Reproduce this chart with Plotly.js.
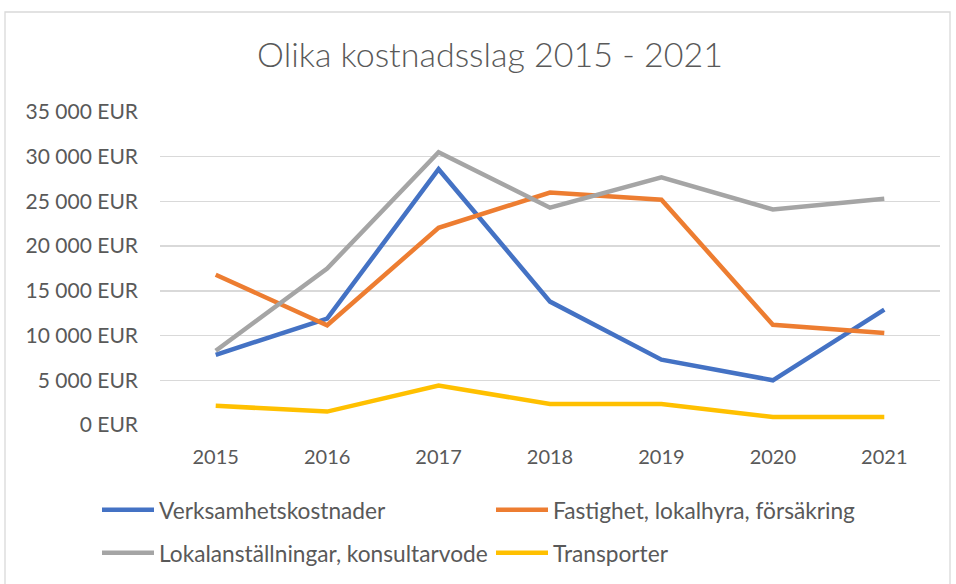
<!DOCTYPE html>
<html>
<head>
<meta charset="utf-8">
<script src="https://cdn.plot.ly/plotly-3.0.1.min.js"></script>
<style>html,body{margin:0;padding:0;background:#fff;}#chart{width:956px;height:584px;}</style>
</head>
<body>
<div id="chart"></div>
<script>
const years = ["2015", "2016", "2017", "2018", "2019", "2020", "2021"];
const verksamhetskostnader = [7850, 11900, 28600, 13800, 7300, 5000, 12900];
const fastighet = [16800, 11150, 22050, 26000, 25200, 11200, 10300];
const lokalanstallningar = [8300, 17500, 30500, 24300, 27700, 24100, 25300];
const transporter = [2150, 1500, 4400, 2350, 2350, 900, 900];
const seriesNames = ["Verksamhetskostnader", "Fastighet, lokalhyra, försäkring", "Lokalanställningar, konsultarvode", "Transporter"];
const yTicks = [0, 5000, 10000, 15000, 20000, 25000, 30000, 35000];
const yTickText = ["0 EUR", "5 000 EUR", "10 000 EUR", "15 000 EUR", "20 000 EUR", "25 000 EUR", "30 000 EUR", "35 000 EUR"];

const W = 956, H = 584;
const ml = 160, mr = 16, mt = 112, mb = 159;
const pw = W - ml - mr, ph = H - mt - mb;
const font = "Lato, 'Open Sans', sans-serif";
const txt = "#595959";

function tr(name, y, color, legend) {
  return {x: years, y: y, name: name, type: "scatter", mode: "lines",
    line: {color: color, width: 4.5}, legend: legend, hoverinfo: "skip"};
}
const data = [
  tr(seriesNames[0], verksamhetskostnader, "#4472C4", "legend"),
  tr(seriesNames[1], fastighet, "#ED7D31", "legend2"),
  tr(seriesNames[2], lokalanstallningar, "#A5A5A5", "legend3"),
  tr(seriesNames[3], transporter, "#FFC000", "legend4")
];
function leg(xpx, ypx) {
  return {orientation: "h", xref: "container", yref: "container", xanchor: "left", yanchor: "middle",
    x: xpx / W, y: (H - ypx) / H, itemwidth: 52,
    font: {family: font, size: 22.7, color: txt}, bgcolor: "rgba(0,0,0,0)"};
}
const layout = {
  width: W, height: H,
  margin: {l: ml, r: mr, t: mt, b: mb},
  paper_bgcolor: "#fff", plot_bgcolor: "#fff",
  font: {family: font, color: txt, size: 20},
  title: {text: "Olika kostnadsslag 2015 - 2021", font: {family: font, size: 34, color: txt, weight: 300},
    xref: "container", yref: "container", x: 490 / W, xanchor: "center", y: 1 - 55 / H, yanchor: "middle"},
  xaxis: {type: "category", range: [-0.5, 6.5], showgrid: false, zeroline: false, showline: false,
    ticks: "", tickfont: {family: font, size: 20, color: txt}, ticklabelstandoff: 18, fixedrange: true},
  yaxis: {range: [0, 35000], tickvals: yTicks, ticktext: yTickText, showgrid: true,
    gridcolor: "#d9d9d9", gridwidth: 1.3, zeroline: false, showline: false, ticks: "",
    tickfont: {family: font, size: 21, color: txt}, ticklabelstandoff: 21, fixedrange: true},
  legend: leg(97, 510),
  legend2: leg(491, 510),
  legend3: leg(97, 553),
  legend4: leg(491, 553),
  shapes: [{type: "rect", xref: "paper", yref: "paper",
    x0: (5 - ml) / pw, x1: (950 - ml) / pw, y0: -(H - 425 + 20) / ph, y1: (425 - 12) / ph,
    line: {color: "#d9d9d9", width: 1.3}, fillcolor: "rgba(0,0,0,0)", layer: "below"}],
  showlegend: true
};
Plotly.newPlot("chart", data, layout, {staticPlot: true, displayModeBar: false});
</script>
</body>
</html>
